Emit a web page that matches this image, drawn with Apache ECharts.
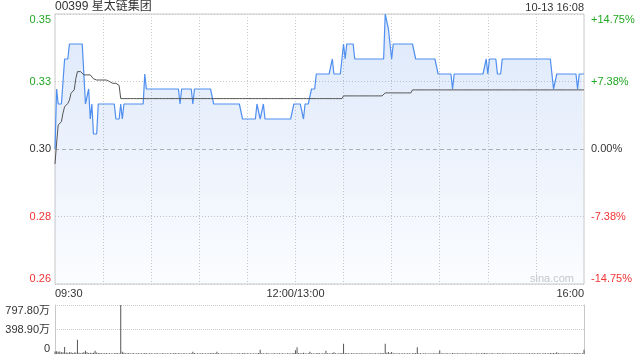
<!DOCTYPE html>
<html><head><meta charset="utf-8">
<script src="https://cdn.jsdelivr.net/npm/echarts@6/dist/echarts.min.js"></script>
<style>html,body{margin:0;padding:0;background:#fff}#c{width:640px;height:360px}</style>
</head><body><div id="c"></div>
<script>
const titleText = '00399 星太链集团';
const stampText = '10-13 16:08';
const prevClose = 0.305;
const priceMin = 0.26, priceMax = 0.35;
const priceTickLabels = ['0.26', '0.28', '0.30', '0.33', '0.35'];
const pctTickLabels = ['-14.75%', '-7.38%', '0.00%', '+7.38%', '+14.75%'];
const volMax = 797.8; // 万
const volTickLabels = ['0', '398.90万', '797.80万'];
const xLabelMap = {0: '09:30', 150: '12:00/13:00', 330: '16:00'};

// price per minute as runs: [startMinuteIndex, price]
const priceRuns = [[0,0.305],[1,0.325],[2,0.32],[6,0.335],[9,0.34],[18,0.33],[19,0.32],[21,0.325],[22,0.315],[23,0.32],[24,0.31],[27,0.32],[38,0.315],[41,0.32],[42,0.315],[43,0.32],[56,0.33],[57,0.325],[78,0.32],[79,0.325],[86,0.32],[87,0.325],[99,0.32],[117,0.315],[126,0.32],[128,0.315],[130,0.32],[131,0.315],[149,0.32],[155,0.315],[156,0.32],[160,0.325],[163,0.33],[173,0.335],[174,0.33],[180,0.34],[181,0.335],[182,0.34],[187,0.335],[206,0.35],[208,0.345],[210,0.335],[211,0.34],[225,0.335],[239,0.33],[248,0.325],[249,0.33],[269,0.335],[270,0.33],[271,0.335],[276,0.33],[279,0.335],[310,0.33],[311,0.325],[313,0.33],[326,0.325],[327,0.33]];

// average price as runs
const avgRuns = [[0,0.300],[1,0.307],[2,0.313],[3,0.3136],[4,0.3141],[5,0.317],[6,0.3191],[7,0.3197],[8,0.3202],[9,0.3213],[10,0.3236],[11,0.3242],[12,0.3247],[13,0.3285],[14,0.3308],[17,0.3305],[18,0.3297],[23,0.3292],[24,0.3284],[25,0.328],[34,0.3275],[35,0.3269],[40,0.3262],[41,0.3218],[180,0.3227],[206,0.3237],[223,0.3247]];

// volume per minute (万)
const volume = [
40,44,36,42,30,28,114,26,22,28,
30,18,24,26,233,20,14,22,30,54,
28,16,20,18,22,54,24,16,18,14,
14,12,16,10,14,12,10,14,16,12,
14,797.8,38,20,14,12,16,10,14,12,
10,14,12,8,12,10,16,12,10,14,
12,8,10,14,12,10,8,12,14,10,
12,10,14,8,12,16,10,12,14,10,
12,14,10,8,12,14,38,16,10,12,
10,14,12,8,12,10,14,12,16,14,
12,38,14,10,12,8,14,10,12,10,
14,12,8,10,12,14,10,12,16,10,
12,10,14,8,12,10,14,16,70,14,
12,10,14,12,8,10,12,14,10,12,
14,10,12,8,10,12,14,10,12,16,
60,110,16,12,14,20,12,10,14,38,
14,12,10,14,16,12,10,14,12,54,
14,12,10,16,28,12,10,14,12,16,
168,16,14,12,10,14,12,10,14,12,
10,14,12,8,12,10,14,12,10,14,
12,10,14,12,16,14,168,22,34,18,
32,14,12,10,14,12,10,14,12,10,
14,12,10,14,12,16,110,14,12,10,
12,14,10,8,12,10,14,12,10,14,
60,14,12,10,14,12,8,10,16,12,
10,14,12,8,12,10,14,12,10,14,
12,10,8,14,12,10,14,12,16,14,
12,10,14,12,8,10,14,12,10,14,
12,10,14,8,12,10,14,12,10,12,
14,10,12,8,10,14,12,10,14,12,
10,14,12,10,8,12,14,10,12,16,
14,18,12,30,14,12,10,14,12,10,
14,12,10,14,12,16,14,12,10,14,
70];

const N = 331;
function pad(n){return (n<10?'0':'')+n;}
const categories = [];
for (let i = 0; i < N; i++) {
  let m = i <= 150 ? 9*60+30+i : 13*60+(i-150);
  categories.push(i === 150 ? '12:00/13:00' : pad(Math.floor(m/60))+':'+pad(m%60));
}
function expand(runs){
  const out=[]; let k=0;
  for (let i=0;i<N;i++){ while(k+1<runs.length && runs[k+1][0]<=i) k++; out.push(runs[k][1]); }
  return out;
}
const priceData = expand(priceRuns);
const avgData = expand(avgRuns);

const FONT = "'Liberation Sans', Arial, 'Noto Sans CJK SC', sans-serif";
const GREEN = '#22a822', RED = '#f03434', DARK = '#333';
function tickColor(v){ return v > 2 ? GREEN : (v < 2 ? RED : DARK); }

const chart = echarts.init(document.getElementById('c'), null, {renderer:'canvas'});
chart.setOption({
  animation: false,
  backgroundColor: '#fff',
  textStyle: {fontFamily: FONT},
  graphic: [
    {type:'text', left: 55, top: 1, style:{text: titleText, fontSize: 12, fill: '#333', fontFamily: FONT}},
    {type:'text', right: 56, top: 2, style:{text: stampText, fontSize: 11, fill: '#333', fontFamily: FONT}},
    {type:'text', right: 66, top: 273, z: 0, style:{text: 'sina.com', fontSize: 11, fill: '#c8c8c8', fontFamily: FONT}}
  ],
  grid: [
    {left: 55, top: 14, width: 529, height: 270, show: true, borderColor: '#c8c8c8', borderWidth: 1, backgroundColor: 'transparent'},
    {left: 55, top: 305, width: 529, height: 49, show: false}
  ],
  xAxis: [
    {type:'category', gridIndex:0, data: categories, boundaryGap:false,
     axisLine:{show:false}, axisTick:{show:false},
     axisLabel:{interval: (i)=> xLabelMap[i] !== undefined, formatter:(v,i)=> xLabelMap[i] || v,
       fontSize: 11, color: '#333', margin: 4, alignMinLabel:'left', alignMaxLabel:'right', showMinLabel:true, showMaxLabel:true, hideOverlap:false},
     splitLine:{show:true, interval:(i)=> i%30===0 && i!==0 && i!==330, lineStyle:{color:'#c8c8c8', type:[1,2], width:1}}},
    {type:'category', gridIndex:1, data: categories, boundaryGap:false,
     axisLine:{show:false}, axisTick:{show:false}, axisLabel:{show:false}, splitLine:{show:false}}
  ],
  yAxis: [
    {type:'value', gridIndex:0, min:0, max:4, interval:1, position:'left',
     axisLine:{show:false}, axisTick:{show:false},
     axisLabel:{formatter:(v)=>priceTickLabels[Math.round(v)], color:(v)=>tickColor(v), fontSize:11, margin:4,
       verticalAlignMinLabel:'bottom', verticalAlignMaxLabel:'top'},
     splitLine:{show:true, lineStyle:{color:['#c8c8c8','#c8c8c8','rgba(0,0,0,0)','#c8c8c8','#c8c8c8'], type:[1,2], width:1}}},
    {type:'value', gridIndex:0, min:priceMin, max:priceMax, show:false, splitLine:{show:false}},
    {type:'value', gridIndex:0, min:0, max:4, interval:1, position:'right',
     axisLine:{show:false}, axisTick:{show:false},
     axisLabel:{formatter:(v)=>pctTickLabels[Math.round(v)], color:(v)=>tickColor(v), fontSize:11, margin:7,
       verticalAlignMinLabel:'bottom', verticalAlignMaxLabel:'top'},
     splitLine:{show:false}},
    {type:'value', gridIndex:1, min:0, max:volMax, interval:volMax/2, position:'left',
     axisLine:{show:true, lineStyle:{color:'#c8c8c8'}}, axisTick:{show:false},
     axisLabel:{formatter:(v)=>volTickLabels[Math.round(v/(volMax/2))], color:'#333', fontSize:11, margin:5,
       verticalAlignMinLabel:'bottom', verticalAlignMaxLabel:'top'},
     splitLine:{show:true, lineStyle:{color:['rgba(0,0,0,0)','#c8c8c8','#c8c8c8'], type:[1,1], width:1}}},
    {type:'value', gridIndex:1, min:0, max:volMax, position:'right',
     axisLine:{show:true, lineStyle:{color:'#c8c8c8'}}, axisTick:{show:false}, axisLabel:{show:false}, splitLine:{show:false}},
    // previous-close reference line (middle of the price range), dashed
    {type:'value', gridIndex:0, min:0, max:4, interval:2, position:'left',
     axisLine:{show:false}, axisTick:{show:false}, axisLabel:{show:false},
     splitLine:{show:true, lineStyle:{color:['rgba(0,0,0,0)','#b4b4b4','rgba(0,0,0,0)'], type:[4,3], width:1}}}
  ],
  series: [
    {type:'line', name:'price', xAxisIndex:0, yAxisIndex:1, data: priceData, showSymbol:false, symbol:'none',
     lineStyle:{color:'#4f8ff0', width:1.2},
     areaStyle:{origin:'start', color: new echarts.graphic.LinearGradient(0,0,0,1,[{offset:0,color:'rgba(80,138,232,0.28)'},{offset:1,color:'rgba(80,138,232,0.03)'}])},
     z:2},
    {type:'line', name:'avg', xAxisIndex:0, yAxisIndex:1, data: avgData, showSymbol:false, symbol:'none',
     lineStyle:{color:'#555', width:1}, z:3},
    {type:'bar', name:'volume', xAxisIndex:1, yAxisIndex:3, data: volume, barWidth:1, itemStyle:{color:'#555'}}
  ]
});
</script></body></html>
